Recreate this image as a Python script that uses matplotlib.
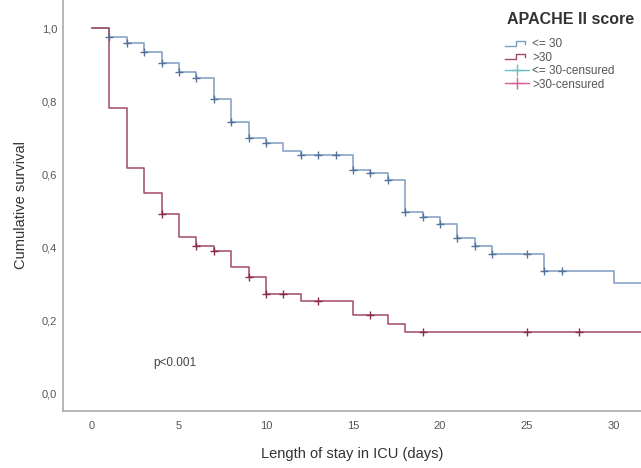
import matplotlib
matplotlib.use('Agg')
import matplotlib.pyplot as plt
from matplotlib.lines import Line2D
from matplotlib.legend_handler import HandlerBase
from matplotlib.ticker import FuncFormatter

# Kaplan-Meier data (days, cumulative survival)
low_times = [0, 1, 2, 3, 4, 5, 6, 7, 8, 9, 10, 11, 12, 15, 16, 17, 18, 19, 20, 21, 22, 23, 26, 30]
low_surv = [1.0, 0.975, 0.959, 0.934, 0.904, 0.879, 0.863, 0.805, 0.742, 0.699, 0.685, 0.663,
            0.652, 0.611, 0.603, 0.584, 0.496, 0.482, 0.463, 0.425, 0.403, 0.381, 0.334, 0.301]
low_cens = [1, 2, 3, 4, 5, 6, 7, 8, 9, 10, 12, 13, 14, 15, 16, 17, 18, 19, 20, 21, 22, 23, 25, 26, 27]

high_times = [0, 1, 2, 3, 4, 5, 6, 7, 8, 9, 10, 12, 15, 17, 18]
high_surv = [1.0, 0.78, 0.616, 0.548, 0.49, 0.428, 0.403, 0.39, 0.345, 0.318, 0.27, 0.252,
             0.214, 0.19, 0.167]
high_cens = [4, 6, 7, 9, 10, 11, 13, 16, 19, 25, 28]

x_end = 31.6
x_ticks = [0, 5, 10, 15, 20, 25, 30]
y_ticks = [0.0, 0.2, 0.4, 0.6, 0.8, 1.0]

blue_line = '#7d9cc4'
blue_mark = '#557399'
red_line = '#a04a62'
red_mark = '#8c2c4a'


def surv_at(times, surv, t):
    # значение ступенчатой функции в момент t
    val = surv[0]
    for ti, si in zip(times, surv):
        if ti <= t:
            val = si
    return val


class StepHandler(HandlerBase):
    def create_artists(self, legend, orig_handle, xdescent, ydescent, width, height, fontsize, trans):
        w, h = width, height
        xs = [-xdescent, -xdescent + 0.45 * w, -xdescent + 0.45 * w, -xdescent + 0.85 * w, -xdescent + 0.85 * w]
        ys = [0.2 * h, 0.2 * h, 0.8 * h, 0.8 * h, 0.45 * h]
        line = Line2D(xs, ys, color=orig_handle.get_color(), lw=1.0, transform=trans)
        return [line]


plt.rcParams['font.family'] = ['Liberation Sans', 'DejaVu Sans']

fig = plt.figure(figsize=(6.41, 4.68), dpi=100)
ax = fig.add_axes([0.098, 0.122, 0.902, 0.878])

ax.step(low_times + [x_end], low_surv + [low_surv[-1]], where='post', color=blue_line, lw=1.1)
ax.step(high_times + [x_end], high_surv + [high_surv[-1]], where='post', color=red_line, lw=1.1)

low_cy = [surv_at(low_times, low_surv, t) for t in low_cens]
high_cy = [surv_at(high_times, high_surv, t) for t in high_cens]
ax.plot(low_cens, low_cy, '+', color=blue_mark, ms=6, mew=1.0)
ax.plot(high_cens, high_cy, '+', color=red_mark, ms=6, mew=1.0)

ax.text(3.5, 0.082, 'p<0.001', fontsize=8.5, color='#444444', ha='left', va='center')

ax.set_xlim(-1.67, 31.55)
ax.set_ylim(-0.049, 1.077)
ax.set_xticks(x_ticks)
ax.set_yticks(y_ticks)
ax.yaxis.set_major_formatter(FuncFormatter(lambda v, p: f'{v:.1f}'.replace('.', ',')))
ax.tick_params(axis='both', length=0, labelsize=8, labelcolor='#555555')
ax.tick_params(axis='y', pad=4)
ax.tick_params(axis='x', pad=7)

for side in ['top', 'right']:
    ax.spines[side].set_visible(False)
for side in ['left', 'bottom']:
    ax.spines[side].set_color('#aaaaaa')
    ax.spines[side].set_linewidth(1.2)

ax.set_xlabel('Length of stay in ICU (days)', fontsize=10.5, color='#333333', labelpad=12)
ax.set_ylabel('Cumulative survival', fontsize=10.5, color='#333333', labelpad=10)

# заголовок легенды отдельно, чтобы задать отступ
fig.text(507 / 641, 1 - 20 / 468, 'APACHE II score', fontsize=11.5, fontweight='bold',
         color='#333333', ha='left', va='center')

handles = [Line2D([], [], color=blue_line), Line2D([], [], color=red_line),
           Line2D([], [], color='#6fbfbf', marker='+', ms=8, lw=1.0),
           Line2D([], [], color='#d8609a', marker='+', ms=8, lw=1.0)]
labels = ['<= 30', '>30', '<= 30-censured', '>30-censured']
leg = fig.legend(handles, labels, loc='upper left', bbox_to_anchor=(0.788, 0.918),
                 frameon=False, fontsize=8.5,
                 handlelength=2.0, handletextpad=0.3, labelspacing=0.12, borderaxespad=0.0,
                 borderpad=0.0,
                 handler_map={handles[0]: StepHandler(), handles[1]: StepHandler()})
for t in leg.get_texts():
    t.set_color('#555555')

fig.savefig('out.png', dpi=100)
